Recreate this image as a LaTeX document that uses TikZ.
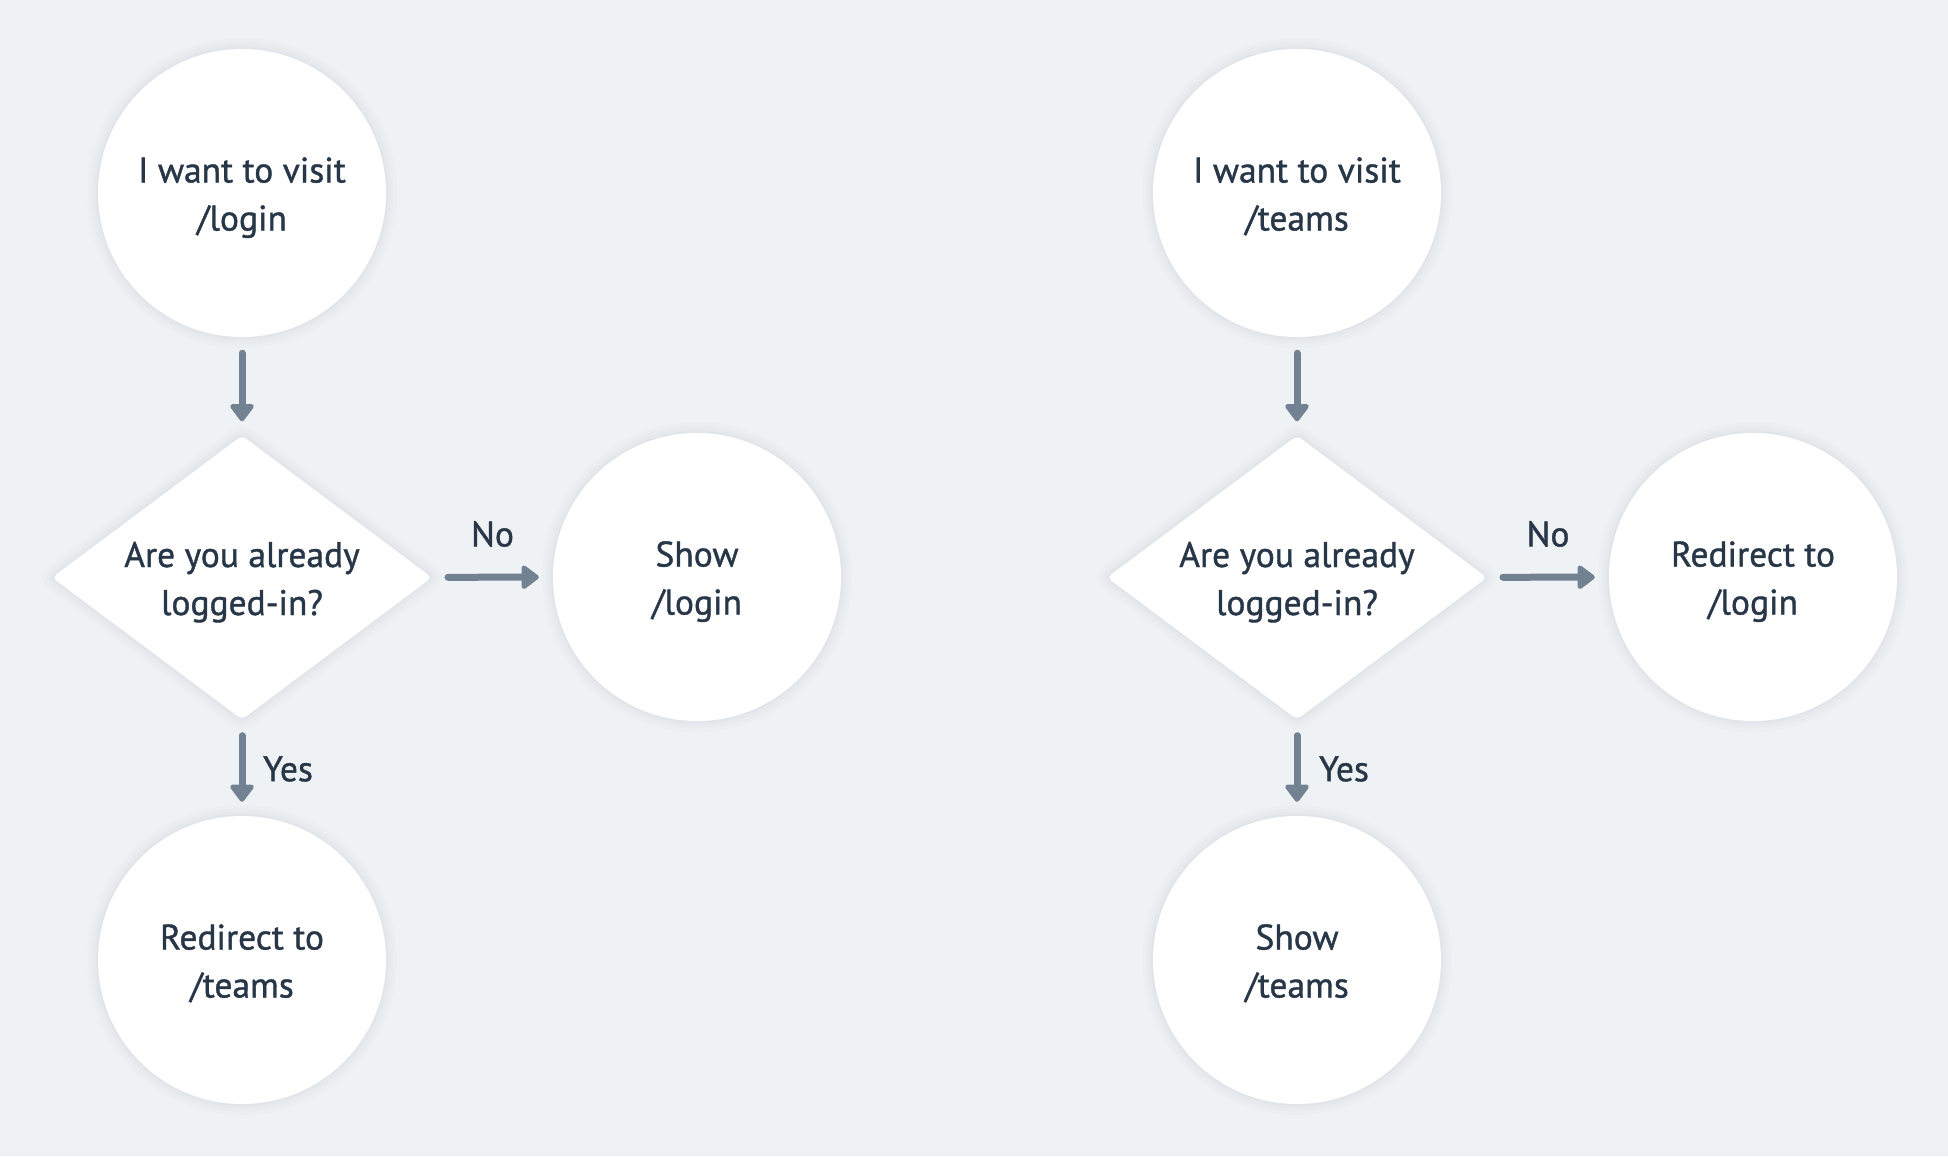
\documentclass[tikz,border=0pt]{standalone}
\usepackage{fontspec}
\setmainfont{PT Sans}[FakeBold=1.1]
\usetikzlibrary{arrows.meta,shapes.geometric}
\definecolor{bgc}{HTML}{EFF2F5}
\definecolor{txt}{HTML}{283747}
\definecolor{arr}{HTML}{738292}
\definecolor{shd}{HTML}{1E2A3A}
\newcommand{\tl}{\rule{0pt}{36pt}}
\newcommand{\bl}{\rule[-9pt]{0pt}{9pt}}
\tikzset{
  softshadow/.style={
    preaction={draw=shd, draw opacity=0.010, line width=22pt},
    preaction={draw=shd, draw opacity=0.012, line width=15pt},
    preaction={draw=shd, draw opacity=0.014, line width=9pt},
    preaction={draw=shd, draw opacity=0.016, line width=4pt}},
  base/.style={fill=white, text=txt, align=center, inner sep=0pt,
    font=\fontsize{35.5}{48}\selectfont, softshadow},
  roundnode/.style={base, circle, minimum size=288pt},
  decision/.style={base, diamond, aspect=1.338, minimum width=380pt, minimum height=284pt, rounded corners=5pt},
  conn/.style={draw=arr, line width=7pt, line cap=round,
    -{Triangle[length=19pt,width=27pt,round]}, shorten <=16pt, shorten >=14pt},
  lbl/.style={text=txt, font=\fontsize{35.5}{48}\selectfont, inner sep=0pt}
}
\begin{document}
\begin{tikzpicture}[x=1pt,y=-1pt]
\fill[bgc] (0,0) rectangle (1948,1156);
\useasboundingbox (0,0) rectangle (1948,1156);
% left flow
\node[roundnode] (a1) at (242,193) {\tl I want to visit\\/login\bl};
\node[decision] (d1) at (242,577.5) {\tl Are you already\\logged-in?\bl};
\node[roundnode] (n1) at (697,577) {\tl Show\\/login\bl};
\node[roundnode] (y1) at (242,960) {\tl Redirect to\\/teams\bl};
\draw[conn] (a1) -- (d1);
\draw[conn] (d1) -- (n1);
\draw[conn] (d1) -- (y1);
\node[lbl] (lno1) at (492.5,534) {No};
\node[lbl] (lyes1) at (288,769) {Yes};
% right flow
\node[roundnode] (a2) at (1297,193) {\tl I want to visit\\/teams\bl};
\node[decision] (d2) at (1297,577.5) {\tl Are you already\\logged-in?\bl};
\node[roundnode] (n2) at (1753,577) {\tl Redirect to\\/login\bl};
\node[roundnode] (y2) at (1297,960) {\tl Show\\/teams\bl};
\draw[conn] (a2) -- (d2);
\draw[conn] (d2) -- (n2);
\draw[conn] (d2) -- (y2);
\node[lbl] (lno2) at (1548,534) {No};
\node[lbl] (lyes2) at (1344,769) {Yes};
\end{tikzpicture}
\end{document}
